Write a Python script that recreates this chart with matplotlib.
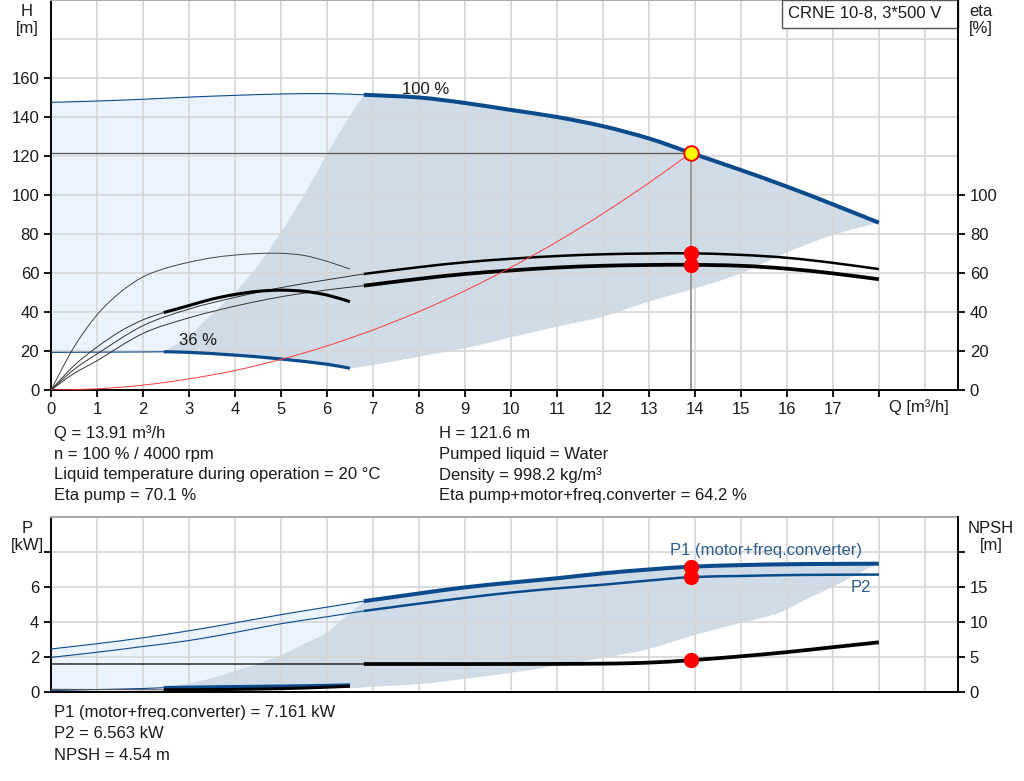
import numpy as np
import matplotlib
matplotlib.use("Agg")
import matplotlib.pyplot as plt
from matplotlib.patches import Rectangle, PathPatch
from matplotlib.path import Path

plt.rcParams['font.family'] = ['Liberation Sans', 'DejaVu Sans']

# ---------------- data ----------------
# Head curves
q100_thin = [0, 1, 2, 3, 4, 5, 6, 6.8]
h100_thin = [147.5, 148.2, 149.1, 150.2, 151.1, 151.8, 152.0, 151.4]
q100 = [6.8, 8, 9, 10, 11, 12, 13, 13.91, 15, 16, 17, 18]
h100 = [151.4, 150.0, 147.2, 143.6, 140.0, 135.3, 129.0, 121.6, 112.8, 104.3, 95.2, 85.8]
q36_thin = [0, 1, 2, 2.45]
h36_thin = [19.3, 19.4, 19.5, 19.6]
q36 = [2.45, 3, 4, 5, 6, 6.5]
h36 = [19.6, 19.3, 17.9, 15.9, 13.2, 11.1]

# operating-range boundaries (head chart)
q_left_h = [2.45, 3.0, 3.5, 4.0, 4.5, 5.0, 5.5, 6.0, 6.4, 6.8]
h_left_h = [19.6, 28, 39, 50, 64, 81, 100, 121, 137, 151.4]
q_low_h = [6.5, 7, 8, 9, 10, 11, 12, 13, 14, 15, 16, 17, 18]
h_low_h = [11.1, 12.8, 17.1, 21.4, 27.0, 32.5, 37.6, 45.3, 52.1, 59.8, 70.5, 79.5, 85.8]

# system curve
q_sys = [0, 1, 2, 3, 4, 5, 6, 7, 8, 9, 10, 11, 12, 13, 13.91]
h_sys = [0, 0.6, 2.5, 5.7, 10.0, 15.7, 22.6, 30.8, 40.2, 50.9, 62.9, 76.0, 90.5, 106.2, 121.6]

# efficiency curves [%]
q_eta = [6.8, 8, 9, 10, 11, 12, 13, 13.91, 15, 16, 17, 18]
eta_pump = [59.5, 63.0, 65.5, 67.3, 68.7, 69.6, 70.0, 70.1, 69.3, 67.8, 65.2, 62.0]
eta_tot = [53.5, 57.0, 59.5, 61.3, 62.8, 63.7, 64.1, 64.2, 63.7, 62.2, 59.8, 56.8]
q_eta_a = [0, 0.5, 1, 2, 3, 4, 5, 6, 6.8]
eta_pump_thin = [0, 10.5, 18.5, 33.0, 41.5, 47.5, 52.5, 56.5, 59.5]
eta_tot_thin = [0, 8.5, 15.0, 29.0, 37.0, 43.0, 47.8, 51.3, 53.5]
q_eta36p = [0, 0.5, 1, 1.5, 2, 2.5, 3, 3.5, 4, 4.5, 5, 5.5, 6, 6.5]
eta_pump36 = [0, 22, 38.5, 50, 58, 62.5, 65.5, 67.8, 69.2, 70.0, 70.1, 69.0, 66.0, 62.0]
q_eta36t_thin = [0, 0.5, 1, 1.5, 2, 2.45]
eta_tot36_thin = [0, 12.5, 22, 30, 36, 39.7]
q_eta36t = [2.45, 3, 3.5, 4, 4.5, 5, 5.5, 6, 6.5]
eta_tot36 = [39.7, 43.3, 46.6, 49.0, 50.6, 51.2, 50.6, 48.7, 45.3]

# duty point
q_op = 13.91
h_op = 121.6
eta_pump_op = 70.1
eta_tot_op = 64.2
p1_op = 7.161
p2_op = 6.563
npsh_op = 4.54

# power curves [kW]
q_p_thin = [0, 1, 2, 3, 4, 5, 6, 6.8]
p1_thin = [2.46, 2.76, 3.10, 3.50, 3.95, 4.42, 4.85, 5.19]
p2_thin = [1.98, 2.27, 2.60, 2.94, 3.40, 3.90, 4.30, 4.63]
q_p = [6.8, 8, 9, 10, 11, 12, 13, 13.91, 15, 16, 17, 18]
p1 = [5.19, 5.63, 5.98, 6.25, 6.50, 6.78, 7.00, 7.161, 7.25, 7.30, 7.32, 7.33]
p2 = [4.63, 5.05, 5.38, 5.68, 5.92, 6.13, 6.37, 6.563, 6.63, 6.68, 6.70, 6.71]
q_p36_thin = [0, 1, 2, 2.45]
p1_36_thin = [0.08, 0.14, 0.20, 0.25]
q_p36 = [2.45, 3.5, 4.5, 5.5, 6.5]
p1_36 = [0.25, 0.29, 0.32, 0.35, 0.40]

# operating-range boundaries (power chart)
q_left_p = [2.45, 3.0, 3.5, 4.0, 4.5, 5.0, 5.5, 6.0, 6.4, 6.8]
p_left_p = [0.25, 0.48, 0.80, 1.20, 1.62, 2.10, 2.75, 3.40, 4.30, 5.19]
q_low_p = [6.5, 7, 8, 9, 10, 11, 12, 13, 14, 15, 15.8, 16.5, 17, 17.5, 18]
p_low_p = [0.20, 0.30, 0.45, 0.75, 1.10, 1.50, 1.95, 2.46, 3.26, 3.95, 4.50, 5.40, 6.00, 6.70, 7.33]

# NPSH [m]
q_npsh_thin = [0, 6.8]
npsh_thin = [4.0, 4.0]
q_npsh = [6.8, 8, 10, 12, 13, 13.91, 15, 16, 17, 18]
npsh = [4.0, 4.0, 4.0, 4.05, 4.2, 4.54, 5.1, 5.7, 6.4, 7.1]
q_npsh36_thin = [0, 1, 2, 2.45]
npsh36_thin = [0.38, 0.35, 0.33, 0.32]
q_npsh36 = [2.45, 3.5, 4.5, 5.5, 6.5]
npsh36 = [0.32, 0.35, 0.42, 0.57, 0.82]

# ticks
q_ticks = list(range(0, 19))
q_ticklabels = [str(v) for v in range(0, 18)] + ['']
h_ticks = [0, 20, 40, 60, 80, 100, 120, 140, 160]
eta_ticks = [0, 20, 40, 60, 80, 100]
p_ticks = [0, 2, 4, 6, 8]
p_ticklabels = ['0', '2', '4', '6', '']
npsh_ticks = [0, 5, 10, 15, 20]
npsh_ticklabels = ['0', '5', '10', '15', '']

# ---------------- style ----------------
BLUE = '#0b4b8c'
LIGHT = '#ebf4fd'
DARK = '#cfdbe7'
GRID = '#d6d6d6'
TXT = '#1a1a1a'
LBLUE = '#2d5d8c'
FS = 12
W, H = 1024, 781


# smooth rendering of the read points (Catmull-Rom as cubic Bezier path)
def curve_pieces(x, y):
    P = np.column_stack([x, y]).astype(float)
    n = len(P)
    verts = [P[0]]
    codes = []
    for i in range(n - 1):
        p0 = P[i - 1] if i > 0 else P[i]
        p1_, p2_ = P[i], P[i + 1]
        p3 = P[i + 2] if i + 2 < n else P[i + 1]
        verts += [p1_ + (p2_ - p0) / 6.0, p2_ - (p3 - p1_) / 6.0, p2_]
        codes += [Path.CURVE4] * 3
    return verts, codes


def smooth_line(a, x, y, **kw):
    v, c = curve_pieces(x, y)
    path = Path(v, [Path.MOVETO] + c)
    kw.setdefault('capstyle', 'butt')
    a.add_patch(PathPatch(path, fill=False, **kw))


def smooth_area(a, pieces, **kw):
    verts, codes = [], []
    for k, (x, y) in enumerate(pieces):
        v, c = curve_pieces(x, y)
        verts += v
        codes += [Path.MOVETO if k == 0 else Path.LINETO] + c
    verts.append(verts[0])
    codes.append(Path.CLOSEPOLY)
    a.add_patch(PathPatch(Path(verts, codes), **kw))


fig = plt.figure(figsize=(W / 100, H / 100), dpi=100)


def fx(px):
    return px / W


def fy(py):
    return 1 - py / H


ax = fig.add_axes([fx(51), fy(390), (958 - 51) / W, 390 / H])
axb = fig.add_axes([fx(51), fy(692), (958 - 51) / W, (692 - 517) / H])

XMAX = 19.72


def style(a):
    a.set_xlim(0, XMAX)
    a.set_axisbelow(True)
    for s in ['left', 'bottom', 'right']:
        a.spines[s].set_color('black')
        a.spines[s].set_linewidth(1.4)
    a.spines['right'].set_visible(False)
    a.spines['top'].set_color('#a8a8a8')
    a.spines['top'].set_linewidth(1.4)
    a.grid(True, which='both', color=GRID, linewidth=1.2)
    a.tick_params(axis='both', which='major', direction='out', length=5, width=1.3,
                  labelsize=FS, labelcolor=TXT, color='black')
    a.tick_params(axis='both', which='minor', length=0)


# ---------------- top chart ----------------
style(ax)
ax.set_ylim(0, 200)
ax.set_xticks(q_ticks)
ax.set_xticklabels(q_ticklabels)
ax.set_xticks([19], minor=True)
ax.set_yticks(h_ticks)
ax.set_yticks([180], minor=True)

smooth_area(ax, [(q100_thin, h100_thin), (q_left_h[::-1], h_left_h[::-1]),
                 (q36_thin[::-1], h36_thin[::-1])],
            facecolor=LIGHT, edgecolor='none', zorder=0.3)
smooth_area(ax, [(q_left_h, h_left_h), (q100, h100), (q_low_h[::-1], h_low_h[::-1]),
                 (q36[::-1], h36[::-1])],
            facecolor=DARK, edgecolor='none', zorder=0.3)

# head curves
smooth_line(ax, q100_thin, h100_thin, color=BLUE, lw=0.8, zorder=3)
smooth_line(ax, q100, h100, color=BLUE, lw=2.9, zorder=3)
smooth_line(ax, q36_thin, h36_thin, color=BLUE, lw=0.8, zorder=3)
smooth_line(ax, q36, h36, color=BLUE, lw=2.3, zorder=3)

# eta curves
smooth_line(ax, q_eta, eta_pump, color='black', lw=1.8, zorder=3)
smooth_line(ax, q_eta, eta_tot, color='black', lw=2.7, zorder=3)
smooth_line(ax, q_eta_a, eta_pump_thin, color='#333333', lw=0.7, zorder=3)
smooth_line(ax, q_eta_a, eta_tot_thin, color='#333333', lw=0.7, zorder=3)
smooth_line(ax, q_eta36p, eta_pump36, color='#444444', lw=0.7, zorder=3)
smooth_line(ax, q_eta36t_thin, eta_tot36_thin, color='#333333', lw=0.7, zorder=3)
smooth_line(ax, q_eta36t, eta_tot36, color='black', lw=2.2, zorder=3)

# system curve and duty point
smooth_line(ax, q_sys, h_sys, color='#ff3b3b', lw=0.7, zorder=3.5)
ax.plot([0, q_op], [h_op, h_op], color='#555555', lw=0.9, zorder=2)
ax.plot([q_op, q_op], [0, h_op], color='#9a9a9a', lw=1.4, zorder=2)
ax.plot([q_op], [h_op], marker='o', ms=10.5, mfc='#ffff00', mec='#ff0000', mew=1.4, zorder=5)
ax.plot([q_op, q_op], [eta_pump_op, eta_tot_op], ls='none', marker='o', ms=10,
        mfc='#ff0000', mec='#ff0000', zorder=5)

ax.text(8.15, 154, '100 %', ha='center', va='center', fontsize=FS, color=TXT, zorder=6)
ax.text(3.2, 25.6, '36 %', ha='center', va='center', fontsize=FS, color=TXT, zorder=6)

axr = ax.twinx()
axr.set_ylim(0, 200)
axr.set_yticks(eta_ticks)
for s in ['left', 'top', 'bottom']:
    axr.spines[s].set_visible(False)
axr.spines['right'].set_color('black')
axr.spines['right'].set_linewidth(1.4)
axr.tick_params(axis='y', direction='out', length=5, width=1.3, labelsize=FS,
                labelcolor=TXT)

# title box
ax.add_patch(Rectangle(((782 - 51) / 907, 1 - 28 / 390), (958 - 782) / 907, 28 / 390,
                       transform=ax.transAxes, facecolor='white', edgecolor='#555555',
                       lw=1.0, zorder=7, clip_on=False))
fig.text(fx(865), fy(14), 'CRNE 10-8, 3*500 V', ha='center', va='center', fontsize=FS,
         color=TXT, zorder=8)

fig.text(fx(27), fy(20), 'H\n[m]', ha='center', va='center', fontsize=FS, color=TXT,
         linespacing=1.1)
fig.text(fx(981), fy(20), 'eta\n[%]', ha='center', va='center', fontsize=FS, color=TXT,
         linespacing=1.1)
fig.text(fx(919), fy(407), 'Q [m³/h]', ha='center', va='center', fontsize=FS, color=TXT)

# info text
info_left = ['Q = 13.91 m³/h', 'n = 100 % / 4000 rpm',
             'Liquid temperature during operation = 20 °C', 'Eta pump = 70.1 %']
info_right = ['H = 121.6 m', 'Pumped liquid = Water', 'Density = 998.2 kg/m³',
              'Eta pump+motor+freq.converter = 64.2 %']
for i, t in enumerate(info_left):
    fig.text(fx(54), fy(433 + 21 * i), t, ha='left', va='center', fontsize=FS, color=TXT)
for i, t in enumerate(info_right):
    fig.text(fx(439), fy(433 + 21 * i), t, ha='left', va='center', fontsize=FS, color=TXT)

# ---------------- bottom chart ----------------
style(axb)
axb.set_ylim(0, 10)
axb.set_xticks(range(0, 20))
axb.set_xticklabels([])
axb.tick_params(axis='x', which='major', length=0)
axb.set_yticks(p_ticks)
axb.set_yticklabels(p_ticklabels)

smooth_area(axb, [(q_p_thin, p1_thin), (q_left_p[::-1], p_left_p[::-1]),
                  (q_p36_thin[::-1], p1_36_thin[::-1])],
            facecolor=LIGHT, edgecolor='none', zorder=0.3)
smooth_area(axb, [(q_left_p, p_left_p), (q_p, p1), (q_low_p[::-1], p_low_p[::-1]),
                  (q_p36[::-1], p1_36[::-1])],
            facecolor=DARK, edgecolor='none', zorder=0.3)

smooth_line(axb, q_p_thin, p1_thin, color=BLUE, lw=0.8, zorder=3)
smooth_line(axb, q_p_thin, p2_thin, color=BLUE, lw=0.8, zorder=3)
smooth_line(axb, q_p, p1, color=BLUE, lw=2.9, zorder=3)
smooth_line(axb, q_p, p2, color=BLUE, lw=1.8, zorder=3)
smooth_line(axb, q_p36_thin, p1_36_thin, color=BLUE, lw=0.8, zorder=3)
smooth_line(axb, q_p36, p1_36, color=BLUE, lw=2.4, zorder=3)
axb.plot([q_op, q_op], [p1_op, p2_op], ls='none', marker='o', ms=10,
         mfc='#ff0000', mec='#ff0000', zorder=5)
axb.text(15.54, 8.07, 'P1 (motor+freq.converter)', ha='center', va='center', fontsize=FS,
         color=LBLUE, zorder=6)
axb.text(17.6, 6.0, 'P2', ha='center', va='center', fontsize=FS, color=LBLUE, zorder=6)

axn = axb.twinx()
axn.set_ylim(0, 25)
axn.set_yticks(npsh_ticks)
axn.set_yticklabels(npsh_ticklabels)
for s in ['left', 'top', 'bottom']:
    axn.spines[s].set_visible(False)
axn.spines['right'].set_color('black')
axn.spines['right'].set_linewidth(1.4)
axn.tick_params(axis='y', direction='out', length=5, width=1.3, labelsize=FS,
                labelcolor=TXT)
smooth_line(axn, q_npsh_thin, npsh_thin, color='black', lw=0.9, zorder=3)
smooth_line(axn, q_npsh, npsh, color='black', lw=2.7, zorder=3)
smooth_line(axn, q_npsh36_thin, npsh36_thin, color='#555555', lw=0.8, zorder=3)
smooth_line(axn, q_npsh36, npsh36, color='black', lw=2.2, zorder=3)
axn.plot([q_op], [npsh_op], marker='o', ms=10, mfc='#ff0000', mec='#ff0000', zorder=5)

fig.text(fx(27), fy(537), 'P\n[kW]', ha='center', va='center', fontsize=FS, color=TXT,
         linespacing=1.1)
fig.text(fx(991), fy(537), 'NPSH\n[m]', ha='center', va='center', fontsize=FS, color=TXT,
         linespacing=1.1)

info_bottom = ['P1 (motor+freq.converter) = 7.161 kW', 'P2 = 6.563 kW', 'NPSH = 4.54 m']
for i, t in enumerate(info_bottom):
    fig.text(fx(54), fy(713 + 21 * i), t, ha='left', va='center', fontsize=FS, color=TXT)

fig.savefig('out.png', dpi=100, facecolor='white')
